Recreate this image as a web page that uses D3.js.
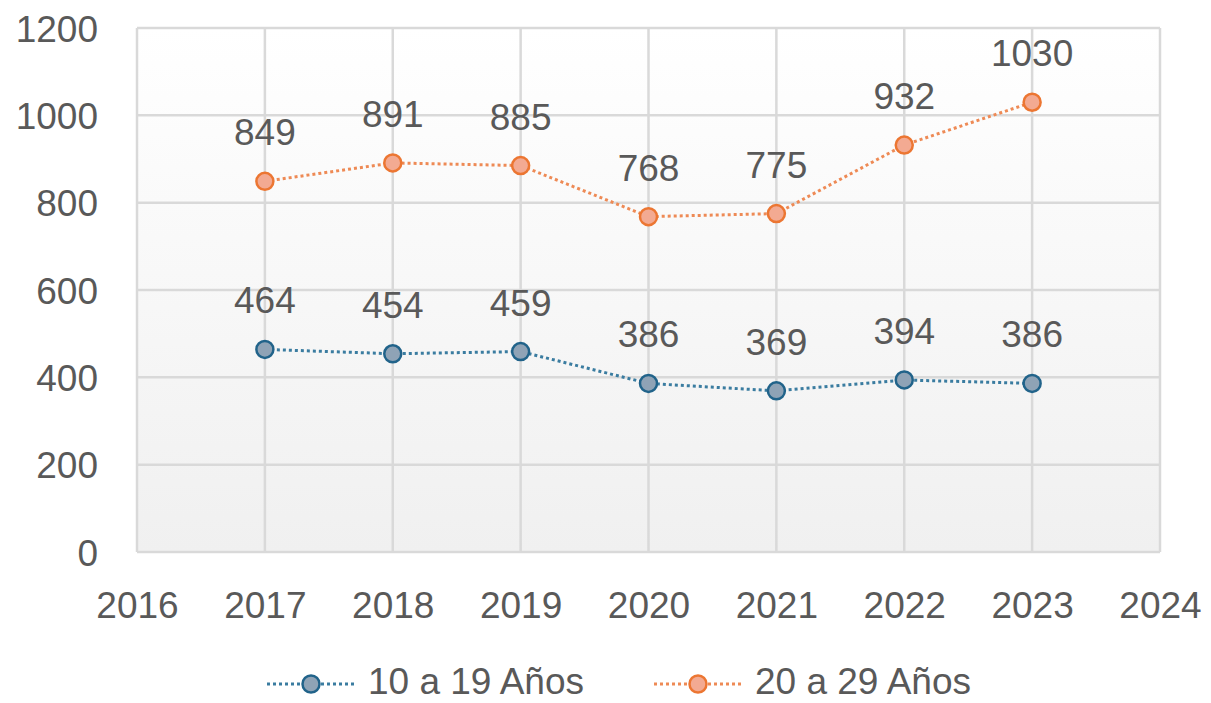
<!DOCTYPE html>
<html>
<head>
<meta charset="utf-8">
<script src="https://cdn.jsdelivr.net/npm/d3@7"></script>
<style>
  body { margin: 0; background: #fff; overflow: hidden; }
  svg text { font-family: "Liberation Sans", Arial, sans-serif; fill: #595959; }
</style>
</head>
<body>
<div id="chart"></div>
<script>
var years = [2017, 2018, 2019, 2020, 2021, 2022, 2023];
var teens = [464, 454, 459, 386, 369, 394, 386];
var twenties = [849, 891, 885, 768, 775, 932, 1030];
var yTicks = [0, 200, 400, 600, 800, 1000, 1200];
var xTicks = [2016, 2017, 2018, 2019, 2020, 2021, 2022, 2023, 2024];

var series = [
    { name: "10 a 19 Años", values: teens, line: "#3a7ca0", fill: "#8fa3b6", stroke: "#21638a" },
    { name: "20 a 29 Años", values: twenties, line: "#ee8a55", fill: "#f3aa92", stroke: "#ec7632" }
];

var W = 1211, H = 703;
var fontSize = "37px";
var margin = { top: 28, right: 51, bottom: 151, left: 137 },
    width = W - margin.left - margin.right,
    height = H - margin.top - margin.bottom;

var svg = d3.select("#chart")
    .append("svg")
    .attr("width", W)
    .attr("height", H);

var defs = svg.append("defs");
var grad = defs.append("linearGradient")
    .attr("id", "bg")
    .attr("x1", 0).attr("y1", 0).attr("x2", 0).attr("y2", 1);
grad.append("stop").attr("offset", "0%").attr("stop-color", "#ffffff");
grad.append("stop").attr("offset", "100%").attr("stop-color", "#f0f0f0");

var g = svg.append("g")
    .attr("transform", "translate(" + margin.left + "," + margin.top + ")");

var x = d3.scaleLinear().domain([2016, 2024]).range([0, width]);
var y = d3.scaleLinear().domain([0, 1200]).range([height, 0]);

g.append("rect")
    .attr("width", width)
    .attr("height", height)
    .style("fill", "url(#bg)");

// gridlines
g.selectAll(".hgrid")
    .data(yTicks)
    .enter()
    .append("line")
    .attr("x1", 0).attr("x2", width)
    .attr("y1", function (d) { return y(d) })
    .attr("y2", function (d) { return y(d) })
    .style("stroke", "#d9d9d9")
    .style("stroke-width", 2.5);

g.selectAll(".vgrid")
    .data(xTicks)
    .enter()
    .append("line")
    .attr("y1", 0).attr("y2", height)
    .attr("x1", function (d) { return x(d) })
    .attr("x2", function (d) { return x(d) })
    .style("stroke", "#d9d9d9")
    .style("stroke-width", 2.5);

// axes (labels only)
var yAxis = g.append("g")
    .call(d3.axisLeft(y).tickValues(yTicks).tickFormat(d3.format("d")).tickSize(0).tickPadding(39));
yAxis.select(".domain").remove();
yAxis.selectAll("text").style("font-size", fontSize).attr("dy", "0.36em");

var xAxis = g.append("g")
    .attr("transform", "translate(0," + height + ")")
    .call(d3.axisBottom(x).tickValues(xTicks).tickFormat(d3.format("d")).tickSize(0).tickPadding(40));
xAxis.select(".domain").remove();
xAxis.selectAll("text").style("font-size", fontSize);

var line = d3.line()
    .x(function (d, i) { return x(years[i]) })
    .y(function (d) { return y(d) });

series.forEach(function (s) {
    g.append("path")
        .datum(s.values)
        .attr("d", line)
        .style("fill", "none")
        .style("stroke", s.line)
        .style("stroke-width", 3)
        .style("stroke-dasharray", "3,3");

    g.selectAll(null)
        .data(s.values)
        .enter()
        .append("circle")
        .attr("cx", function (d, i) { return x(years[i]) })
        .attr("cy", function (d) { return y(d) })
        .attr("r", 8.5)
        .style("fill", s.fill)
        .style("stroke", s.stroke)
        .style("stroke-width", 2.5);

    g.selectAll(null)
        .data(s.values)
        .enter()
        .append("text")
        .attr("x", function (d, i) { return x(years[i]) })
        .attr("y", function (d) { return y(d) - 36 })
        .attr("text-anchor", "middle")
        .style("font-size", fontSize)
        .text(function (d) { return d });
});

// legend
var legendPos = [267, 654];
series.forEach(function (s, i) {
    var lg = svg.append("g")
        .attr("transform", "translate(" + legendPos[i] + ",684)");
    lg.append("line")
        .attr("x1", 0).attr("x2", 88)
        .style("stroke", s.line)
        .style("stroke-width", 3)
        .style("stroke-dasharray", "3,3");
    lg.append("circle")
        .attr("cx", 44)
        .attr("r", 8.5)
        .style("fill", s.fill)
        .style("stroke", s.stroke)
        .style("stroke-width", 2.5);
    lg.append("text")
        .attr("x", 101)
        .attr("y", 10)
        .style("font-size", fontSize)
        .text(s.name);
});
</script>
</body>
</html>
